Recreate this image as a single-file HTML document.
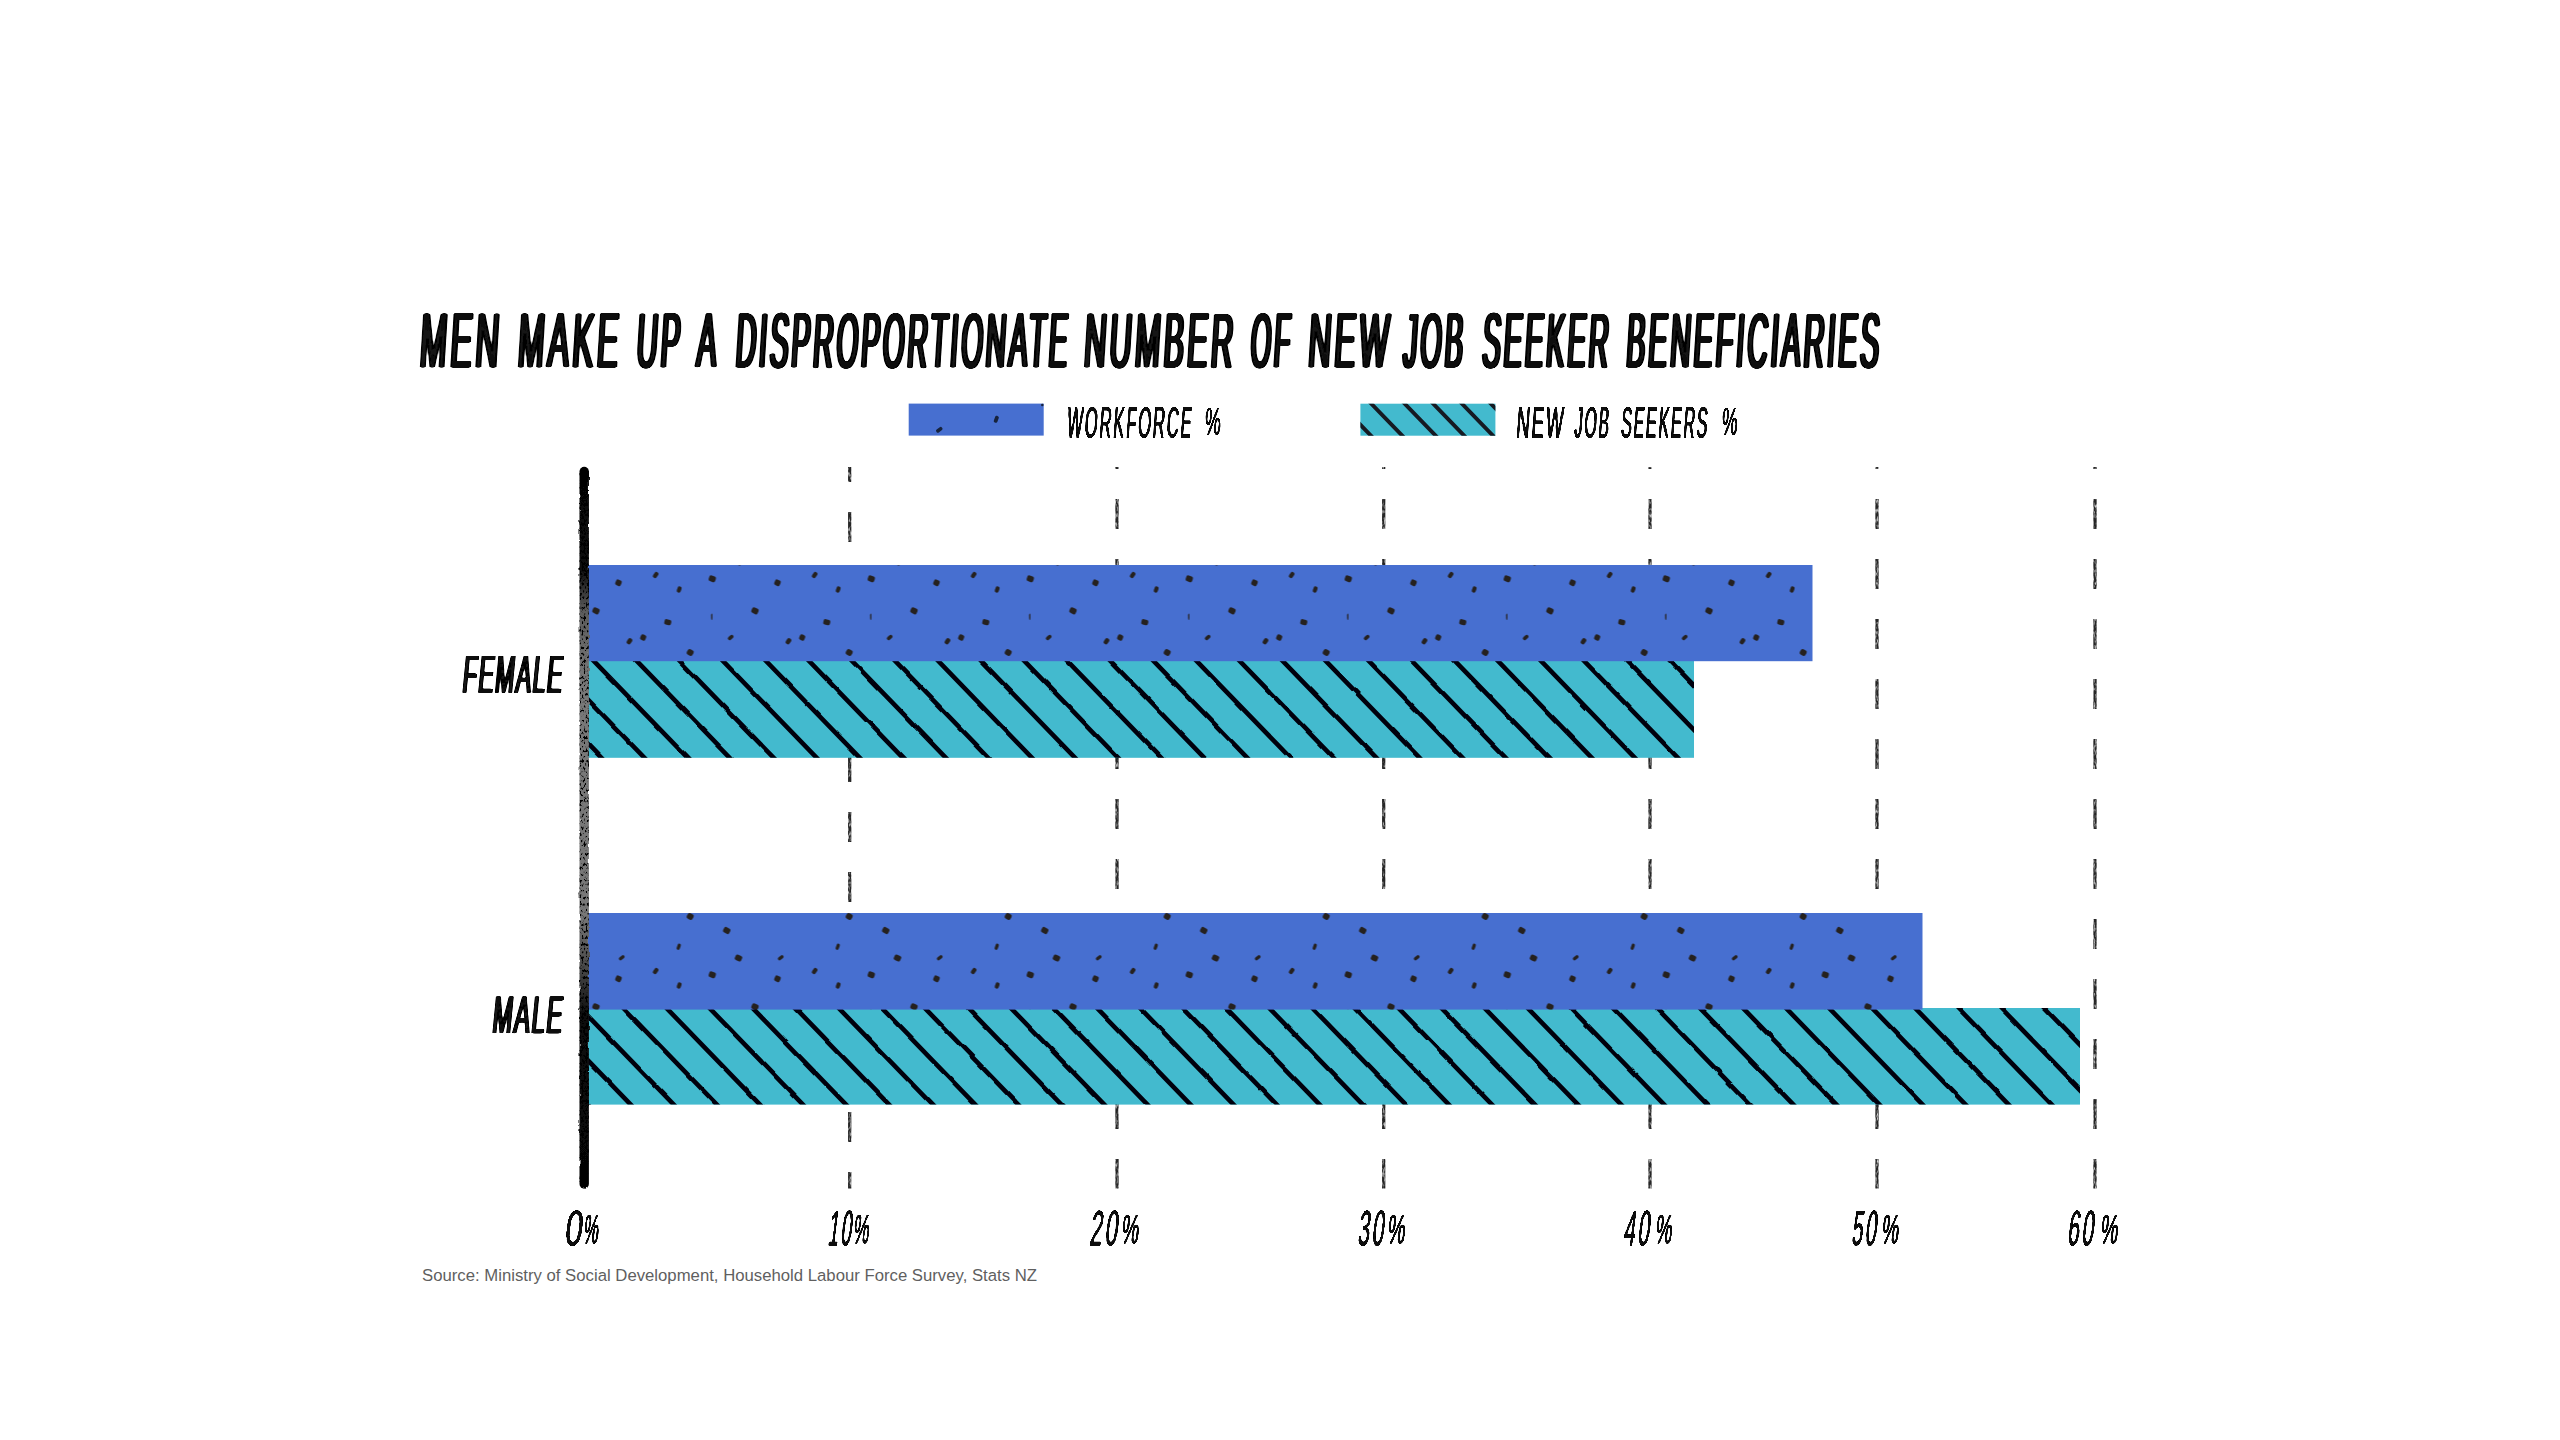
<!DOCTYPE html>
<html lang="en"><head><meta charset="utf-8">
<title>Men make up a disproportionate number of new job seeker beneficiaries</title>
<style>
html,body{margin:0;padding:0;background:#fff;}
body{width:2560px;height:1440px;overflow:hidden;}
svg{display:block;}
text{font-family:"Liberation Sans",sans-serif;fill:#0a0a0a;}
.src{font-family:"Liberation Sans",sans-serif;fill:#5f5f5f;font-size:16.7px;}
</style></head><body>
<svg width="2560" height="1440" viewBox="0 0 2560 1440">
<defs>
<filter id="fatT" x="-3%" y="-25%" width="106%" height="150%"><feGaussianBlur stdDeviation="1.5 0"/><feComponentTransfer><feFuncA type="linear" slope="7" intercept="-0.55"/></feComponentTransfer></filter>
<filter id="fatM" x="-3%" y="-25%" width="106%" height="150%"><feGaussianBlur stdDeviation="0.9 0"/><feComponentTransfer><feFuncA type="linear" slope="6" intercept="-0.7"/></feComponentTransfer></filter>
<filter id="fatL" x="-3%" y="-25%" width="106%" height="150%"><feGaussianBlur stdDeviation="0.75 0"/><feComponentTransfer><feFuncA type="linear" slope="5" intercept="-0.65"/></feComponentTransfer></filter>
<filter id="fatK" x="-3%" y="-25%" width="106%" height="150%"><feGaussianBlur stdDeviation="0.7 0"/><feComponentTransfer><feFuncA type="linear" slope="6" intercept="-1.12"/></feComponentTransfer></filter>
<filter id="fatP" x="-3%" y="-25%" width="106%" height="150%"><feGaussianBlur stdDeviation="0.6 0"/><feComponentTransfer><feFuncA type="linear" slope="5" intercept="-0.75"/></feComponentTransfer></filter>
<filter id="rough" x="-5%" y="-5%" width="110%" height="110%"><feTurbulence type="fractalNoise" baseFrequency="0.05" numOctaves="1" seed="3" result="n"/><feDisplacementMap in="SourceGraphic" in2="n" scale="3" xChannelSelector="R" yChannelSelector="G"/></filter>
<filter id="grit" filterUnits="userSpaceOnUse" x="840" y="460" width="1270" height="735"><feTurbulence type="fractalNoise" baseFrequency="0.7 0.22" numOctaves="2" seed="5" result="n"/><feColorMatrix in="n" type="matrix" values="0 0 0 0 0  0 0 0 0 0  0 0 0 0 0  1.9 0 0 0 -0.08" result="m"/><feComposite in="SourceGraphic" in2="m" operator="in"/></filter>
<filter id="chalk" filterUnits="userSpaceOnUse" x="570" y="455" width="30" height="745"><feTurbulence type="fractalNoise" baseFrequency="0.22 0.12" numOctaves="2" seed="7" result="n"/><feDisplacementMap in="SourceGraphic" in2="n" scale="2.4" xChannelSelector="R" yChannelSelector="G" result="d"/><feTurbulence type="fractalNoise" baseFrequency="0.5 0.3" numOctaves="2" seed="11" result="n2"/><feColorMatrix in="n2" type="matrix" values="0 0 0 0 0  0 0 0 0 0  0 0 0 0 0  7 0 0 0 -3.6" result="sp"/><feComposite in="sp" in2="d" operator="in" result="s"/><feMerge><feMergeNode in="d"/><feMergeNode in="s"/></feMerge></filter>
<pattern id="dots" patternUnits="userSpaceOnUse" x="588.5" y="565" width="159" height="132">
<rect x="0" y="0" width="159" height="132" fill="#476fd0"/>
<rect x="27.01" y="14.81" width="5.98" height="5.98" rx="1.9" fill="#25211f" transform="rotate(25 30.00 17.80)"/>
<rect x="65.08" y="6.69" width="4.23" height="6.62" rx="1.9" fill="#25211f" transform="rotate(35 67.20 10.00)"/>
<rect x="120.35" y="10.81" width="6.90" height="5.98" rx="1.9" fill="#25211f" transform="rotate(20 123.80 13.80)"/>
<rect x="88.63" y="21.37" width="4.14" height="6.26" rx="1.9" fill="#25211f" transform="rotate(20 90.70 24.50)"/>
<rect x="4.05" y="42.81" width="6.90" height="5.98" rx="1.9" fill="#25211f" transform="rotate(25 7.50 45.80)"/>
<rect x="163.05" y="42.81" width="6.90" height="5.98" rx="1.9" fill="#25211f" transform="rotate(25 166.50 45.80)"/>
<rect x="122.66" y="48.48" width="1.29" height="6.44" rx="1.9" fill="#25211f" transform="rotate(0 123.30 51.70)"/>
<rect x="75.85" y="54.44" width="6.90" height="5.52" rx="1.9" fill="#25211f" transform="rotate(15 79.30 57.20)"/>
<rect x="38.79" y="72.98" width="4.42" height="6.44" rx="1.9" fill="#25211f" transform="rotate(35 41.00 76.20)"/>
<rect x="51.94" y="69.51" width="5.52" height="5.98" rx="1.9" fill="#25211f" transform="rotate(25 54.70 72.50)"/>
<rect x="140.36" y="69.28" width="3.68" height="6.44" rx="1.9" fill="#25211f" transform="rotate(50 142.20 72.50)"/>
<rect x="98.48" y="84.51" width="6.44" height="5.98" rx="1.9" fill="#25211f" transform="rotate(30 101.70 87.50)"/>
<rect x="134.80" y="98.51" width="6.90" height="5.98" rx="1.9" fill="#25211f" transform="rotate(30 138.25 101.50)"/>
<rect x="88.59" y="114.53" width="3.31" height="6.44" rx="1.9" fill="#25211f" transform="rotate(20 90.25 117.75)"/>
<rect x="31.59" y="-6.47" width="3.31" height="6.44" rx="1.9" fill="#25211f" transform="rotate(50 33.25 -3.25)"/>
<rect x="31.59" y="125.53" width="3.31" height="6.44" rx="1.9" fill="#25211f" transform="rotate(50 33.25 128.75)"/>
<rect x="146.55" y="-5.99" width="6.90" height="5.98" rx="1.9" fill="#25211f" transform="rotate(25 150.00 -3.00)"/>
<rect x="146.55" y="126.01" width="6.90" height="5.98" rx="1.9" fill="#25211f" transform="rotate(25 150.00 129.00)"/>
</pattern>
<linearGradient id="axg" gradientUnits="userSpaceOnUse" x1="0" y1="467" x2="0" y2="1188.5">
<stop offset="0" stop-color="#050505"/>
<stop offset="0.14" stop-color="#0a0a0a"/>
<stop offset="0.2" stop-color="#5c5c5c"/>
<stop offset="0.3" stop-color="#787878"/>
<stop offset="0.62" stop-color="#787878"/>
<stop offset="0.7" stop-color="#444"/>
<stop offset="0.76" stop-color="#0c0c0c"/>
<stop offset="1" stop-color="#050505"/>
</linearGradient>
<clipPath id="c0"><rect x="588" y="660" width="1106" height="97.8"/></clipPath>
<clipPath id="c1"><rect x="588" y="565" width="1224.5" height="96.2"/></clipPath>
<clipPath id="c2"><rect x="588" y="1008" width="1492" height="96.6"/></clipPath>
<clipPath id="c3"><rect x="588" y="913" width="1334.5" height="96.6"/></clipPath>
<clipPath id="cl"><rect x="1360.4" y="403.7" width="135" height="32"/></clipPath>
</defs>
<rect width="2560" height="1440" fill="#fff"/>
<g stroke="#272727" stroke-width="3.3" fill="none" filter="url(#grit)">
<path d="M849.7 467.0V482.0 M849.7 512.0V542.0 M849.7 572.0V602.0 M849.7 632.0V662.0 M849.7 692.0V722.0 M849.7 752.0V782.0 M849.7 812.0V842.0 M849.7 872.0V902.0 M849.7 932.0V962.0 M849.7 992.0V1022.0 M849.7 1052.0V1082.0 M849.7 1112.0V1142.0 M849.7 1172.0V1188.5"/>
<path d="M1117.0 467.0V469.0 M1117.0 499.0V529.0 M1117.0 559.0V589.0 M1117.0 619.0V649.0 M1117.0 679.0V709.0 M1117.0 739.0V769.0 M1117.0 799.0V829.0 M1117.0 859.0V889.0 M1117.0 919.0V949.0 M1117.0 979.0V1009.0 M1117.0 1039.0V1069.0 M1117.0 1099.0V1129.0 M1117.0 1159.0V1188.5"/>
<path d="M1383.7 467.0V469.0 M1383.7 499.0V529.0 M1383.7 559.0V589.0 M1383.7 619.0V649.0 M1383.7 679.0V709.0 M1383.7 739.0V769.0 M1383.7 799.0V829.0 M1383.7 859.0V889.0 M1383.7 919.0V949.0 M1383.7 979.0V1009.0 M1383.7 1039.0V1069.0 M1383.7 1099.0V1129.0 M1383.7 1159.0V1188.5"/>
<path d="M1650.0 467.0V469.0 M1650.0 499.0V529.0 M1650.0 559.0V589.0 M1650.0 619.0V649.0 M1650.0 679.0V709.0 M1650.0 739.0V769.0 M1650.0 799.0V829.0 M1650.0 859.0V889.0 M1650.0 919.0V949.0 M1650.0 979.0V1009.0 M1650.0 1039.0V1069.0 M1650.0 1099.0V1129.0 M1650.0 1159.0V1188.5"/>
<path d="M1877.0 467.0V469.0 M1877.0 499.0V529.0 M1877.0 559.0V589.0 M1877.0 619.0V649.0 M1877.0 679.0V709.0 M1877.0 739.0V769.0 M1877.0 799.0V829.0 M1877.0 859.0V889.0 M1877.0 919.0V949.0 M1877.0 979.0V1009.0 M1877.0 1039.0V1069.0 M1877.0 1099.0V1129.0 M1877.0 1159.0V1188.5"/>
<path d="M2095.0 467.0V469.0 M2095.0 499.0V529.0 M2095.0 559.0V589.0 M2095.0 619.0V649.0 M2095.0 679.0V709.0 M2095.0 739.0V769.0 M2095.0 799.0V829.0 M2095.0 859.0V889.0 M2095.0 919.0V949.0 M2095.0 979.0V1009.0 M2095.0 1039.0V1069.0 M2095.0 1099.0V1129.0 M2095.0 1159.0V1188.5"/>
</g>
<rect x="588" y="660" width="1106" height="97.8" fill="#43bace"/>
<g clip-path="url(#c0)"><g filter="url(#rough)" stroke="#04060a" stroke-width="4.6" stroke-linecap="butt">
<path d="M499.0 652.0L609.1 765.8 M542.0 652.0L652.2 765.8 M585.1 652.0L695.3 765.8 M628.1 652.0L738.3 765.8 M671.2 652.0L781.4 765.8 M714.3 652.0L824.4 765.8 M757.3 652.0L867.5 765.8 M800.4 652.0L910.6 765.8 M843.4 652.0L953.6 765.8 M886.5 652.0L996.7 765.8 M929.6 652.0L1039.7 765.8 M972.6 652.0L1082.8 765.8 M1015.7 652.0L1125.9 765.8 M1058.7 652.0L1168.9 765.8 M1101.8 652.0L1212.0 765.8 M1144.9 652.0L1255.0 765.8 M1187.9 652.0L1298.1 765.8 M1231.0 652.0L1341.2 765.8 M1274.0 652.0L1384.2 765.8 M1317.1 652.0L1427.3 765.8 M1360.2 652.0L1470.3 765.8 M1403.2 652.0L1513.4 765.8 M1446.3 652.0L1556.5 765.8 M1489.3 652.0L1599.5 765.8 M1532.4 652.0L1642.6 765.8 M1575.5 652.0L1685.6 765.8 M1618.5 652.0L1728.7 765.8 M1661.6 652.0L1771.8 765.8" fill="none"/>
</g></g>
<rect x="588" y="565" width="1224.5" height="96.2" fill="url(#dots)"/>
<rect x="588" y="1008" width="1492" height="96.6" fill="#43bace"/>
<g clip-path="url(#c2)"><g filter="url(#rough)" stroke="#04060a" stroke-width="4.6" stroke-linecap="butt">
<path d="M486.4 1000.0L595.4 1112.6 M529.5 1000.0L638.5 1112.6 M572.5 1000.0L681.5 1112.6 M615.6 1000.0L724.6 1112.6 M658.7 1000.0L767.7 1112.6 M701.7 1000.0L810.7 1112.6 M744.8 1000.0L853.8 1112.6 M787.8 1000.0L896.8 1112.6 M830.9 1000.0L939.9 1112.6 M874.0 1000.0L983.0 1112.6 M917.0 1000.0L1026.0 1112.6 M960.1 1000.0L1069.1 1112.6 M1003.1 1000.0L1112.1 1112.6 M1046.2 1000.0L1155.2 1112.6 M1089.3 1000.0L1198.3 1112.6 M1132.3 1000.0L1241.3 1112.6 M1175.4 1000.0L1284.4 1112.6 M1218.4 1000.0L1327.4 1112.6 M1261.5 1000.0L1370.5 1112.6 M1304.6 1000.0L1413.6 1112.6 M1347.6 1000.0L1456.6 1112.6 M1390.7 1000.0L1499.7 1112.6 M1433.7 1000.0L1542.7 1112.6 M1476.8 1000.0L1585.8 1112.6 M1519.9 1000.0L1628.9 1112.6 M1562.9 1000.0L1671.9 1112.6 M1606.0 1000.0L1715.0 1112.6 M1649.0 1000.0L1758.0 1112.6 M1692.1 1000.0L1801.1 1112.6 M1735.2 1000.0L1844.2 1112.6 M1778.2 1000.0L1887.2 1112.6 M1821.3 1000.0L1930.3 1112.6 M1864.3 1000.0L1973.3 1112.6 M1907.4 1000.0L2016.4 1112.6 M1950.5 1000.0L2059.5 1112.6 M1993.5 1000.0L2102.5 1112.6 M2036.6 1000.0L2145.6 1112.6 M2079.6 1000.0L2188.6 1112.6" fill="none"/>
</g></g>
<rect x="588" y="913" width="1334.5" height="96.6" fill="url(#dots)"/>
<path d="M584.2 471.5L584.2 1184" stroke="url(#axg)" stroke-width="9.4" stroke-linecap="round" fill="none" filter="url(#chalk)"/>
<rect x="908.7" y="403.6" width="135" height="32" fill="#476fd0"/>
<rect x="937.50" y="426.30" width="3.6" height="7" rx="1.5" fill="#17233d" transform="rotate(52 939.30 429.80)"/>
<rect x="994.40" y="415.80" width="3.8" height="7" rx="1.5" fill="#17233d" transform="rotate(20 996.30 419.30)"/>
<rect x="1041.05" y="403.75" width="2.5" height="2.5" rx="1.5" fill="#17233d" transform="rotate(0 1042.30 405.00)"/>
<rect x="1360.4" y="403.7" width="135" height="32" fill="#43bace"/>
<g clip-path="url(#cl)"><path d="M1334.2 397.7L1376.8 441.7 M1365.5 397.7L1408.1 441.7 M1398.9 397.7L1441.5 441.7 M1427.4 397.7L1470.0 441.7 M1456.2 397.7L1498.8 441.7 M1485.1 397.7L1527.7 441.7" stroke="#161a22" stroke-width="3.9" fill="none"/></g>
<text y="367.30" font-size="78.5" letter-spacing="9" transform="translate(0 340.30) skewX(-3.5) translate(0 -340.30)" filter="url(#fatT)"><tspan x="420.60" textLength="82.17" lengthAdjust="spacingAndGlyphs">MEN</tspan> <tspan x="518.60" textLength="103.61" lengthAdjust="spacingAndGlyphs">MAKE</tspan> <tspan x="637.30" textLength="46.28" lengthAdjust="spacingAndGlyphs">UP</tspan> <tspan x="697.50" textLength="22.85" lengthAdjust="spacingAndGlyphs">A</tspan> <tspan x="736.40" textLength="334.48" lengthAdjust="spacingAndGlyphs">DISPROPORTIONATE</tspan> <tspan x="1084.80" textLength="151.97" lengthAdjust="spacingAndGlyphs">NUMBER</tspan> <tspan x="1251.30" textLength="41.97" lengthAdjust="spacingAndGlyphs">OF</tspan> <tspan x="1309.00" textLength="83.37" lengthAdjust="spacingAndGlyphs">NEW</tspan> <tspan x="1404.00" textLength="62.53" lengthAdjust="spacingAndGlyphs">JOB</tspan> <tspan x="1483.10" textLength="128.91" lengthAdjust="spacingAndGlyphs">SEEKER</tspan> <tspan x="1626.90" textLength="255.72" lengthAdjust="spacingAndGlyphs">BENEFICIARIES</tspan></text>
<text y="437.50" font-size="45" letter-spacing="5" transform="translate(0 422.02) skewX(-4) translate(0 -422.02)" filter="url(#fatL)"><tspan x="1067.60" textLength="126.04" lengthAdjust="spacingAndGlyphs">WORKFORCE</tspan></text>
<text y="435.20" font-size="38" letter-spacing="5" transform="translate(0 422.13) skewX(-4) translate(0 -422.13)" filter="url(#fatP)"><tspan x="1205.10" textLength="18.37" lengthAdjust="spacingAndGlyphs">%</tspan></text>
<text y="437.50" font-size="45" letter-spacing="5" transform="translate(0 422.02) skewX(-4) translate(0 -422.02)" filter="url(#fatL)"><tspan x="1516.80" textLength="48.73" lengthAdjust="spacingAndGlyphs">NEW</tspan> <tspan x="1575.00" textLength="35.95" lengthAdjust="spacingAndGlyphs">JOB</tspan> <tspan x="1621.40" textLength="88.08" lengthAdjust="spacingAndGlyphs">SEEKERS</tspan></text>
<text y="435.20" font-size="38" letter-spacing="5" transform="translate(0 422.13) skewX(-4) translate(0 -422.13)" filter="url(#fatP)"><tspan x="1721.90" textLength="18.14" lengthAdjust="spacingAndGlyphs">%</tspan></text>
<text y="693.30" font-size="54" letter-spacing="4" transform="translate(0 674.72) skewX(-5.5) translate(0 -674.72)" filter="url(#fatM)"><tspan x="463.30" textLength="101.19" lengthAdjust="spacingAndGlyphs">FEMALE</tspan></text>
<text y="1033.30" font-size="54" letter-spacing="4" transform="translate(0 1014.72) skewX(-5.5) translate(0 -1014.72)" filter="url(#fatM)"><tspan x="493.30" textLength="71.25" lengthAdjust="spacingAndGlyphs">MALE</tspan></text>
<text y="1245.80" font-size="49" letter-spacing="6" transform="translate(0 1228.94) skewX(-7) translate(0 -1228.94)" filter="url(#fatK)"><tspan x="565.80" textLength="21.23" lengthAdjust="spacingAndGlyphs">0</tspan></text>
<text y="1243.20" font-size="42" letter-spacing="6" transform="translate(0 1228.75) skewX(-7) translate(0 -1228.75)" filter="url(#fatP)"><tspan x="584.20" textLength="17.41" lengthAdjust="spacingAndGlyphs">%</tspan></text>
<text y="1245.80" font-size="49" letter-spacing="6" transform="translate(0 1228.94) skewX(-7) translate(0 -1228.94)" filter="url(#fatK)"><tspan x="829.20" textLength="25.72" lengthAdjust="spacingAndGlyphs">10</tspan></text>
<text y="1243.20" font-size="42" letter-spacing="6" transform="translate(0 1228.75) skewX(-7) translate(0 -1228.75)" filter="url(#fatP)"><tspan x="854.00" textLength="18.57" lengthAdjust="spacingAndGlyphs">%</tspan></text>
<text y="1245.80" font-size="49" letter-spacing="6" transform="translate(0 1228.94) skewX(-7) translate(0 -1228.94)" filter="url(#fatK)"><tspan x="1091.10" textLength="30.12" lengthAdjust="spacingAndGlyphs">20</tspan></text>
<text y="1243.20" font-size="42" letter-spacing="6" transform="translate(0 1228.75) skewX(-7) translate(0 -1228.75)" filter="url(#fatP)"><tspan x="1122.00" textLength="20.43" lengthAdjust="spacingAndGlyphs">%</tspan></text>
<text y="1245.80" font-size="49" letter-spacing="6" transform="translate(0 1228.94) skewX(-7) translate(0 -1228.94)" filter="url(#fatK)"><tspan x="1359.00" textLength="28.58" lengthAdjust="spacingAndGlyphs">30</tspan></text>
<text y="1243.20" font-size="42" letter-spacing="6" transform="translate(0 1228.75) skewX(-7) translate(0 -1228.75)" filter="url(#fatP)"><tspan x="1388.10" textLength="20.89" lengthAdjust="spacingAndGlyphs">%</tspan></text>
<text y="1245.80" font-size="49" letter-spacing="6" transform="translate(0 1228.94) skewX(-7) translate(0 -1228.94)" filter="url(#fatK)"><tspan x="1624.90" textLength="28.25" lengthAdjust="spacingAndGlyphs">40</tspan></text>
<text y="1243.20" font-size="42" letter-spacing="6" transform="translate(0 1228.75) skewX(-7) translate(0 -1228.75)" filter="url(#fatP)"><tspan x="1655.90" textLength="19.62" lengthAdjust="spacingAndGlyphs">%</tspan></text>
<text y="1245.80" font-size="49" letter-spacing="6" transform="translate(0 1228.94) skewX(-7) translate(0 -1228.94)" filter="url(#fatK)"><tspan x="1853.10" textLength="26.71" lengthAdjust="spacingAndGlyphs">50</tspan></text>
<text y="1243.20" font-size="42" letter-spacing="6" transform="translate(0 1228.75) skewX(-7) translate(0 -1228.75)" filter="url(#fatP)"><tspan x="1882.20" textLength="20.08" lengthAdjust="spacingAndGlyphs">%</tspan></text>
<text y="1245.80" font-size="49" letter-spacing="6" transform="translate(0 1228.94) skewX(-7) translate(0 -1228.94)" filter="url(#fatK)"><tspan x="2068.70" textLength="28.58" lengthAdjust="spacingAndGlyphs">60</tspan></text>
<text y="1243.20" font-size="42" letter-spacing="6" transform="translate(0 1228.75) skewX(-7) translate(0 -1228.75)" filter="url(#fatP)"><tspan x="2101.00" textLength="20.78" lengthAdjust="spacingAndGlyphs">%</tspan></text>
<text class="src" x="422" y="1281" textLength="615" lengthAdjust="spacingAndGlyphs">Source: Ministry of Social Development, Household Labour Force Survey, Stats NZ</text>
</svg></body></html>
